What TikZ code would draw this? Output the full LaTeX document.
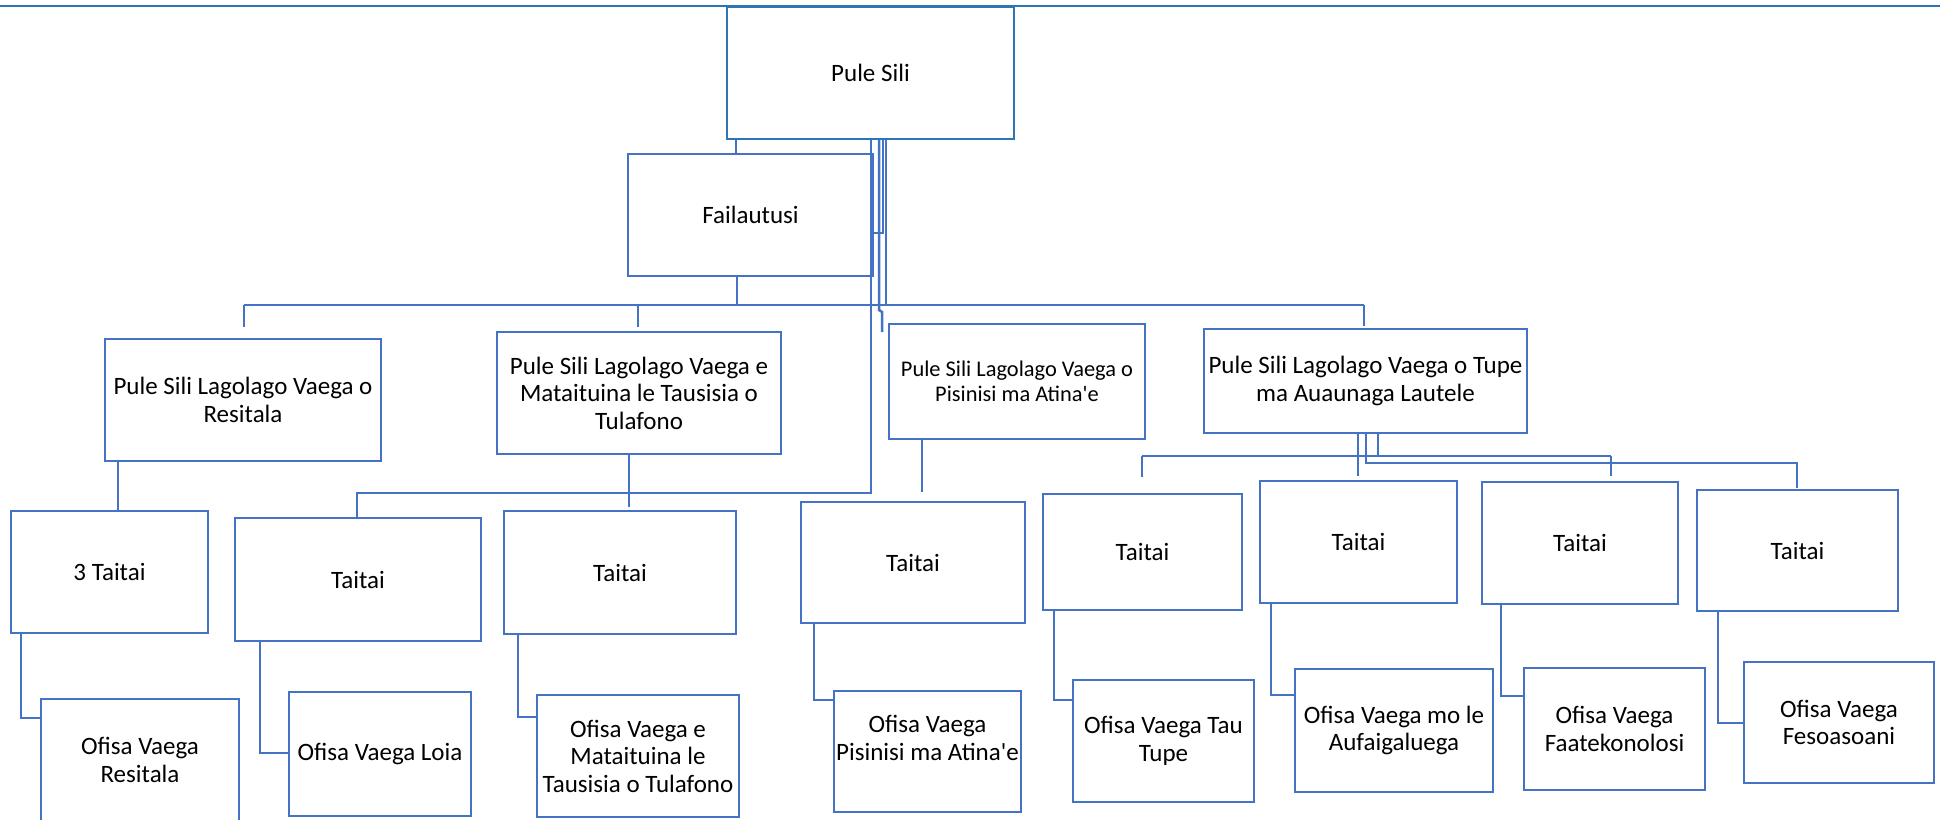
\documentclass[tikz,border=0pt]{standalone}
\usepackage{fontspec}
\newfontfamily\carlito{Carlito}
\definecolor{obox}{HTML}{4472C4}
\definecolor{pbox}{HTML}{2E75B6}
\tikzset{
  box/.style={draw=obox, line width=2.8pt, fill=white, align=center, inner sep=0pt,
    font=\carlito\fontsize{25}{27.5}\selectfont, text=black},
  pbx/.style={box, draw=pbox, line width=2pt},
  smalltext/.style={font=\carlito\fontsize{22.4}{25}\selectfont},
  conn/.style={draw=obox, line width=2.5pt},
  topline/.style={draw=pbox, line width=2.6pt}
}
\begin{document}
\begin{tikzpicture}[x=1pt,y=-1pt]
\useasboundingbox (0,0) rectangle (1940,819);
\fill[white] (0,0) rectangle (1940,819);
% top rule
\coordinate (tl) at (0,6);
\coordinate (tr) at (1940,6);
\draw[topline] (tl) -- (tr);
% boxes
\node[pbx, minimum width=287pt, minimum height=132pt] (ps) at (870.5,73) {Pule Sili};
\node[box, minimum width=245pt, minimum height=122pt] (fa) at (750.5,215) {Failautusi};
\node[box, minimum width=276pt, minimum height=122pt] (r1) at (243,400) {Pule Sili Lagolago Vaega o\\Resitala};
\node[box, minimum width=284pt, minimum height=122pt] (r2) at (639,393) {Pule Sili Lagolago Vaega e\\Mataituina le Tausisia o\\Tulafono};
\node[box, smalltext, minimum width=256pt, minimum height=115pt] (r3) at (1017,381.5) {Pule Sili Lagolago Vaega o\\Pisinisi ma Atina'e};
\node[box, minimum width=323pt, minimum height=104pt] (r4) at (1365.5,381) {Pule Sili Lagolago Vaega o Tupe\\ma Auaunaga Lautele};
\node[box, minimum width=197pt, minimum height=122pt] (t1) at (109.5,572) {3 Taitai};
\node[box, minimum width=246pt, minimum height=123pt] (t2) at (358,579.5) {Taitai};
\node[box, minimum width=232pt, minimum height=123pt] (t3) at (620,572.5) {Taitai};
\node[box, minimum width=224pt, minimum height=121pt] (t4) at (913,562.5) {Taitai};
\node[box, minimum width=199pt, minimum height=116pt] (t5) at (1142.5,552) {Taitai};
\node[box, minimum width=197pt, minimum height=122pt] (t6) at (1358.5,542) {Taitai};
\node[box, minimum width=196pt, minimum height=122pt] (t7) at (1580,543) {Taitai};
\node[box, minimum width=201pt, minimum height=121pt] (t8) at (1797.5,550.5) {Taitai};
\node[box, minimum width=198pt, minimum height=122pt] (o1) at (140,760) {Ofisa Vaega\\Resitala};
\node[box, minimum width=182pt, minimum height=124pt] (o2) at (380,754) {Ofisa Vaega Loia};
\node[box, minimum width=202pt, minimum height=122pt] (o3) at (638,756) {Ofisa Vaega e\\Mataituina le\\Tausisia o Tulafono};
\node[box, minimum width=187pt, minimum height=121pt] (o4) at (927.5,751.5) {Ofisa Vaega\\Pisinisi ma Atina'e\\\mbox{}};
\node[box, minimum width=181pt, minimum height=122pt] (o5) at (1163.5,741) {Ofisa Vaega Tau\\Tupe};
\node[box, minimum width=198pt, minimum height=123pt] (o6) at (1394,730.5) {Ofisa Vaega mo le\\Aufaigaluega};
\node[box, minimum width=181pt, minimum height=122pt] (o7) at (1614.5,729) {Ofisa Vaega\\Faatekonolosi};
\node[box, minimum width=190pt, minimum height=121pt] (o8) at (1839,722.5) {Ofisa Vaega\\Fesoasoani};
% connectors from Pule Sili
\coordinate (a1) at (736,0);
\draw[conn] (ps.south -| a1) -- (fa.north -| a1);
\coordinate (a2) at (871,493);
\coordinate (a2b) at (357,493);
\draw[conn] (ps.south -| a2) -- (a2) -- (a2b) -- (t2.north -| a2b);
\coordinate (a2c) at (629,507);
\draw[conn] (r2.south -| a2c) -- (a2c);
\coordinate (a3) at (883,233);
\draw[conn] (ps.south -| a3) -- (a3) -- (fa.east |- a3);
\coordinate (a4) at (879,310);
\coordinate (a4b) at (882,312);
\coordinate (a4c) at (882,332);
\draw[conn] (ps.south -| a4) -- (a4) -- (a4b) -- (a4c);
\coordinate (a5) at (886,305);
\draw[conn] (ps.south -| a5) -- (a5);
% main bus
\coordinate (a6) at (737,305);
\draw[conn] (fa.south -| a6) -- (a6);
\coordinate (busL) at (244,305);
\coordinate (busR) at (1364,305);
\draw[conn] (busL) -- (busR);
\coordinate (d1) at (244,327);
\coordinate (d2) at (638,327);
\coordinate (d3) at (1364,326);
\draw[conn] (busL) -- (d1);
\draw[conn] (d2 |- busL) -- (d2);
\draw[conn] (busR) -- (d3);
% left subtrees
\coordinate (a7) at (118,0);
\draw[conn] (r1.south -| a7) -- (t1.north -| a7);
\coordinate (a8) at (21,718);
\draw[conn] (t1.south -| a8) -- (a8) -- (o1.west |- a8);
\coordinate (a9) at (260,753);
\draw[conn] (t2.south -| a9) -- (a9) -- (o2.west |- a9);
\coordinate (a10) at (518,717);
\draw[conn] (t3.south -| a10) -- (a10) -- (o3.west |- a10);
% Pisinisi
\coordinate (a11) at (922,492);
\draw[conn] (r3.south -| a11) -- (a11);
\coordinate (a12) at (814,700);
\draw[conn] (t4.south -| a12) -- (a12) -- (o4.west |- a12);
% Tupe
\coordinate (a13) at (1054,700);
\draw[conn] (t5.south -| a13) -- (a13) -- (o5.west |- a13);
\coordinate (a14) at (1271,695);
\draw[conn] (t6.south -| a14) -- (a14) -- (o6.west |- a14);
\coordinate (a15) at (1501,696);
\draw[conn] (t7.south -| a15) -- (a15) -- (o7.west |- a15);
\coordinate (a16) at (1718,723);
\draw[conn] (t8.south -| a16) -- (a16) -- (o8.west |- a16);
\coordinate (a17) at (1358,476);
\draw[conn] (r4.south -| a17) -- (a17);
\coordinate (a18) at (1378,456);
\coordinate (h1) at (1142,456);
\coordinate (h2) at (1611,456);
\coordinate (e1) at (1142,477);
\coordinate (e2) at (1611,476);
\draw[conn] (r4.south -| a18) -- (a18);
\draw[conn] (h1) -- (h2);
\draw[conn] (h1) -- (e1);
\draw[conn] (h2) -- (e2);
\coordinate (a19) at (1366,463);
\coordinate (a19b) at (1797,463);
\coordinate (a19c) at (1797,488);
\draw[conn] (r4.south -| a19) -- (a19) -- (a19b) -- (a19c);
\end{tikzpicture}
\end{document}
